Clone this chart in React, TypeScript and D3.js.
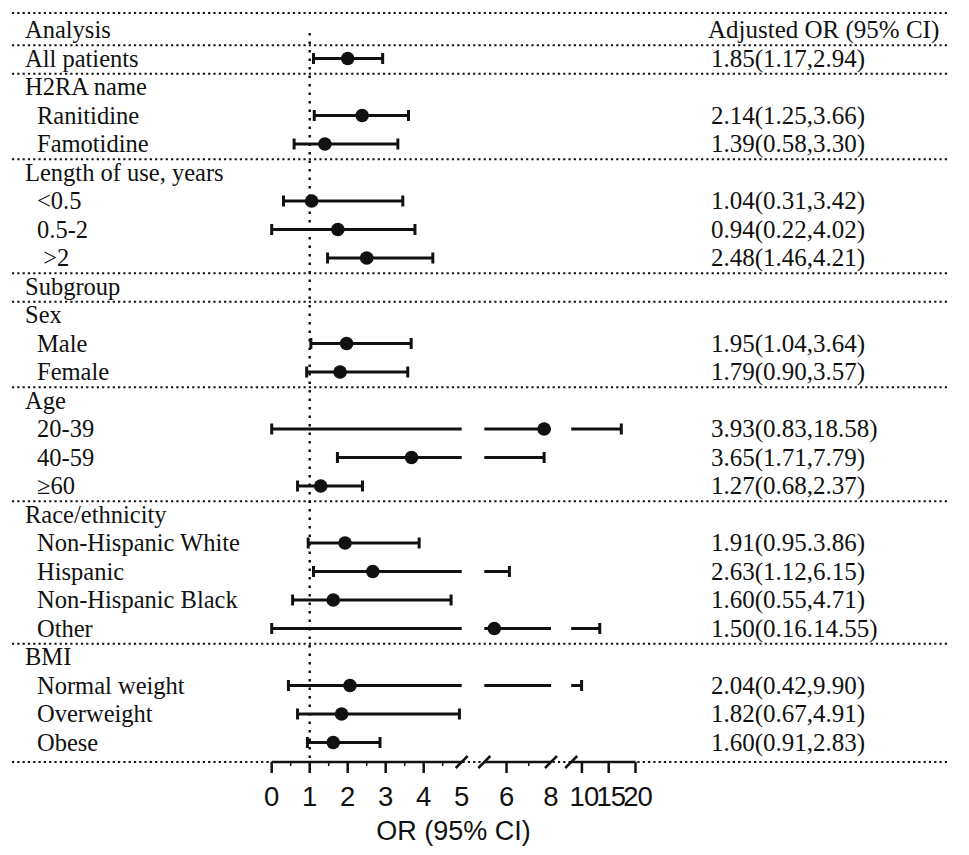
import React from 'react';
import * as d3 from 'd3';

// rows of the forest plot, top to bottom
const rowLabels = [
  'Analysis', 'All patients', 'H2RA name', 'Ranitidine', 'Famotidine',
  'Length of use, years', '<0.5', '0.5-2', '\u00a0>2', 'Subgroup', 'Sex',
  'Male', 'Female', 'Age', '20-39', '40-59', '\u226560', 'Race/ethnicity',
  'Non-Hispanic White', 'Hispanic', 'Non-Hispanic Black', 'Other', 'BMI',
  'Normal weight', 'Overweight', 'Obese',
];
const rowIndent = [0, 0, 0, 1, 1, 0, 1, 1, 1, 0, 0, 1, 1, 0, 1, 1, 1, 0, 1, 1, 1, 1, 0, 1, 1, 1];

const estimates = [null, 2.0, null, 2.38, 1.4, null, 1.05, 1.74, 2.5, null, null, 1.97, 1.8, null, 7.69, 3.68, 1.29, null, 1.93, 2.66, 1.62, 5.45, null, 2.06, 1.84, 1.62];
const lower = [null, 1.1, null, 1.12, 0.59, null, 0.31, 0, 1.47, null, null, 1.03, 0.92, null, 0, 1.73, 0.68, null, 0.96, 1.1, 0.55, 0, null, 0.44, 0.68, 0.94];
const upper = [null, 2.92, null, 3.6, 3.32, null, 3.45, 3.77, 4.24, null, null, 3.67, 3.58, null, 17.35, 7.69, 2.39, null, 3.88, 6.13, 4.72, 13.33, null, 9.94, 4.94, 2.85];

const orText = [
  'Adjusted OR (95% CI)', '1.85(1.17,2.94)', '', '2.14(1.25,3.66)', '1.39(0.58,3.30)',
  '', '1.04(0.31,3.42)', '0.94(0.22,4.02)', '2.48(1.46,4.21)', '', '',
  '1.95(1.04,3.64)', '1.79(0.90,3.57)', '', '3.93(0.83,18.58)', '3.65(1.71,7.79)',
  '1.27(0.68,2.37)', '', '1.91(0.95.3.86)', '2.63(1.12,6.15)', '1.60(0.55,4.71)',
  '1.50(0.16.14.55)', '', '2.04(0.42,9.90)', '1.82(0.67,4.91)', '1.60(0.91,2.83)',
];

// dotted separators sit below these rows (-1 = top edge)
const separatorsAfter = [-1, 0, 1, 4, 8, 9, 12, 16, 21];

// broken axis: three linear pieces
const axisPieces = [
  { domain: [0, 5], range: [271.7, 461.7], ticks: [0, 1, 2, 3, 4], minor: d3.range(0.5, 5, 1) },
  { domain: [5, 8], range: [484.3, 551], ticks: [6], minor: [7] },
  { domain: [8, 20], range: [571.2, 635.5], ticks: [10, 15, 20], minor: [] as number[] },
];
const tickLabels = ['0', '1', '2', '3', '4', '5', '6', '8', '10', '15', '20'];
const tickLabelValues = [0, 1, 2, 3, 4, 5, 6, 8, 10, 15, 20];

const W = 969;
const H = 855;
const axisY = 762;
const serif = '"Liberation Serif", "Times New Roman", serif';
const sans = '"Liberation Sans", Arial, sans-serif';
const ink = '#111';

const pieceScales = axisPieces.map(p => d3.scaleLinear().domain(p.domain).range(p.range));

function x(v: number): number {
  for (let i = 0; i < axisPieces.length; i++) {
    if (v <= axisPieces[i].domain[1] || i === axisPieces.length - 1) return pieceScales[i](v);
  }
  return 0;
}

const rowY = d3.scaleLinear().domain([0, 25]).range([30, 742.5]);

const App: React.FC = () => {
  const capH = 5.5;
  return (
    <svg width={W} height={H} style={{ position: 'absolute', left: 0, top: 0, background: '#fff' }}>
      {/* dotted separators */}
      {separatorsAfter.map(i => {
        const y = i < 0 ? 13 : rowY(i + 0.5) + 1;
        return (
          <line key={'sep' + i} x1={12} x2={948} y1={y} y2={y}
            stroke={ink} strokeWidth={2.2} strokeDasharray="2.2 3.1" />
        );
      })}
      <line x1={12} x2={948} y1={axisY} y2={axisY} stroke={ink} strokeWidth={2.2} strokeDasharray="2.2 3.1" />

      {/* reference line at OR = 1 */}
      <line x1={x(1)} x2={x(1)} y1={33} y2={axisY} stroke={ink} strokeWidth={2.5} strokeDasharray="2.5 6" />

      {/* left labels */}
      {rowLabels.map((lab, i) => (
        <text key={'lab' + i} x={rowIndent[i] ? 37 : 25} y={rowY(i) + 8}
          fontFamily={serif} fontSize={24.5} fill={ink}>{lab}</text>
      ))}

      {/* right column */}
      {orText.map((t, i) => t ? (
        <text key={'or' + i} x={i === 0 ? 708 : 711} y={rowY(i) + 8}
          fontFamily={serif} fontSize={25} fill={ink}>{t}</text>
      ) : null)}

      {/* confidence intervals */}
      {estimates.map((est, i) => {
        if (est == null) return null;
        const lo = lower[i] as number;
        const hi = upper[i] as number;
        const y = rowY(i);
        const pieces = axisPieces.map((p, k) => {
          const a = Math.max(lo, p.domain[0]);
          const b = Math.min(hi, p.domain[1]);
          if (b <= a) return null;
          return <line key={k} x1={pieceScales[k](a)} x2={pieceScales[k](b)} y1={y} y2={y}
            stroke={ink} strokeWidth={3} />;
        });
        return (
          <g key={'ci' + i}>
            {pieces}
            <line x1={x(lo)} x2={x(lo)} y1={y - capH} y2={y + capH} stroke={ink} strokeWidth={3} />
            <line x1={x(hi)} x2={x(hi)} y1={y - capH} y2={y + capH} stroke={ink} strokeWidth={3} />
            <circle cx={x(est)} cy={y} r={6.8} fill={ink} />
          </g>
        );
      })}

      {/* broken axis */}
      {axisPieces.map((p, k) => (
        <g key={'ax' + k}>
          <line x1={p.range[0]} x2={p.range[1]} y1={axisY} y2={axisY} stroke={ink} strokeWidth={2.5} />
          {p.ticks.map(t => (
            <line key={t} x1={pieceScales[k](t)} x2={pieceScales[k](t)} y1={axisY} y2={axisY + 11}
              stroke={ink} strokeWidth={2.5} />
          ))}
          {p.minor.map(t => (
            <line key={'m' + t} x1={pieceScales[k](t)} x2={pieceScales[k](t)} y1={axisY} y2={axisY + 4}
              stroke={ink} strokeWidth={1.5} />
          ))}
        </g>
      ))}
      {[axisPieces[0].range[1], axisPieces[1].range[0], axisPieces[1].range[1], axisPieces[2].range[0]].map((bx, k) => (
        <line key={'brk' + k} x1={bx - 6} x2={bx + 6} y1={axisY + 6} y2={axisY - 6}
          stroke={ink} strokeWidth={2.5} />
      ))}
      {tickLabels.map((t, k) => (
        <text key={'tl' + k} x={x(tickLabelValues[k]) + (k >= 8 ? 2 : 0)} y={806} textAnchor="middle"
          fontFamily={sans} fontSize={27.5} letterSpacing={k >= 8 ? -1 : 0} fill={ink}>{t}</text>
      ))}
      <text x={(axisPieces[0].range[0] + axisPieces[2].range[1]) / 2} y={840} textAnchor="middle"
        fontFamily={sans} fontSize={27} fill={ink}>OR (95% CI)</text>
    </svg>
  );
};

export default App;
